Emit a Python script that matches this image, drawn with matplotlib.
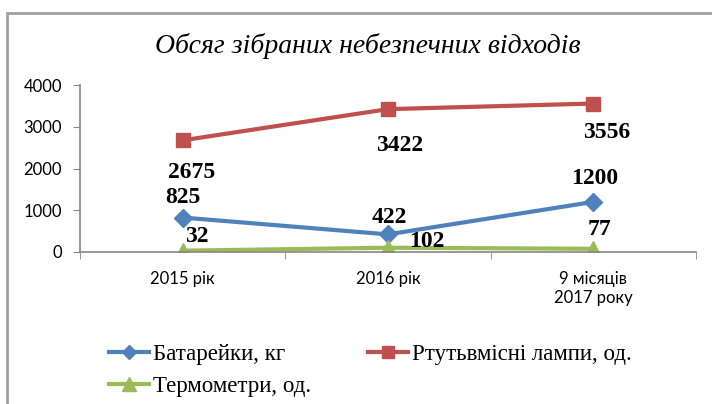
import matplotlib.pyplot as plt
from matplotlib.patches import Rectangle
from matplotlib.font_manager import FontProperties

# дані з діаграми
categories = ["2015 рік", "2016 рік", "9 місяців\n2017 року"]
batteries = [825, 422, 1200]
lamps = [2675, 3422, 3556]
thermometers = [32, 102, 77]

series_names = ["Батарейки, кг", "Ртутьвмісні лампи, од.", "Термометри, од."]

fig = plt.figure(figsize=(7.12, 4.04), dpi=100)
ax = fig.add_axes([80 / 712, 1 - 252 / 404, 616 / 712, 167 / 404])

x = list(range(len(categories)))
hb, = ax.plot(x, batteries, color="#4F81BD", lw=3, marker="D", ms=9, label=series_names[0])
hl, = ax.plot(x, lamps, color="#C0504D", lw=3, marker="s", ms=10, label=series_names[1])
ht, = ax.plot(x, thermometers, color="#9BBB59", lw=3, marker="^", ms=12, label=series_names[2])

# підписи значень (зсув у пікселях)
lab_font = dict(family="Liberation Serif", weight="bold", fontsize=17, ha="center", va="center")
offsets = {
    "b": [(0, 20), (1, 17), (1, 23)],
    "l": [(9, -32), (12, -36), (13, -29)],
    "t": [(14, 14), (39, 6), (6, 19)],
}
for key, vals in (("b", batteries), ("l", lamps), ("t", thermometers)):
    for i, v in enumerate(vals):
        ax.annotate(str(v), (i, v), xytext=offsets[key][i], textcoords="offset pixels", **lab_font)

ax.set_xlim(-0.5, 2.5)
ax.set_ylim(0, 4000)
ax.set_yticks([0, 1000, 2000, 3000, 4000])
ax.set_xticks(x)
ax.set_xticklabels(categories, family="Lato", fontsize=12)
ax.set_xticks([-0.5, 0.5, 1.5, 2.5], minor=True)
ax.tick_params(axis="x", which="major", length=0, pad=14)
ax.tick_params(axis="x", which="minor", length=5, color="#868686")
ax.tick_params(axis="y", length=5, color="#868686", pad=8, labelsize=12)
for t in ax.get_yticklabels():
    t.set_family("Lato")
for s in ("top", "right"):
    ax.spines[s].set_visible(False)
for s in ("left", "bottom"):
    ax.spines[s].set_color("#868686")
    ax.spines[s].set_linewidth(1.2)

fig.text(368 / 712, 1 - 46 / 404, "Обсяг зібраних небезпечних відходів",
         family="Liberation Serif", style="italic", fontsize=20, ha="center", va="center")

leg_font = FontProperties(family="Liberation Serif", size=16.5)
fig.legend([hb, ht, hl], [series_names[0], series_names[2], series_names[1]],
           loc="upper left", bbox_to_anchor=(88 / 712, 1 - 323 / 404), ncol=2, frameon=False,
           prop=leg_font, handlelength=1.75, columnspacing=2.45, handletextpad=0.2,
           labelspacing=0.48, markerscale=0.8)

# рамка діаграми
fig.patches.append(Rectangle((7 / 712, -0.1), 1.0, 1 - 13 / 404 + 0.1, transform=fig.transFigure,
                             fill=False, ec="#A0A0A0", lw=2))

fig.savefig("out.png", dpi=100)
